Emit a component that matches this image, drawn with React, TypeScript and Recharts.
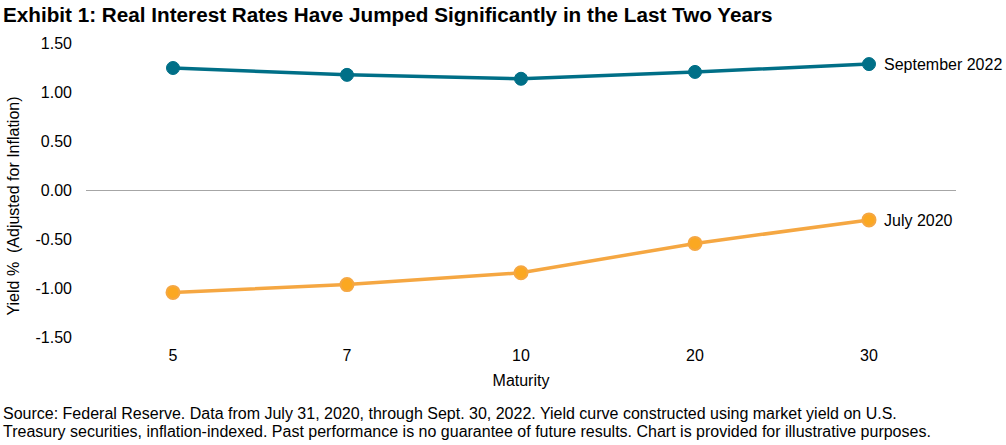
import React from 'react'
import { LineChart, Line, XAxis, YAxis, ReferenceLine, LabelList } from 'recharts'

const maturities = ['5', '7', '10', '20', '30']
const sep2022 = [1.25, 1.18, 1.14, 1.21, 1.29]
const jul2020 = [-1.04, -0.96, -0.84, -0.54, -0.3]
const yTicks = [-1.5, -1.0, -0.5, 0, 0.5, 1.0, 1.5]

const data = maturities.map((m, i) => ({ maturity: m, sep: sep2022[i], jul: jul2020[i] }))

const FONT = '"Liberation Sans", Arial, sans-serif'
const TEAL = '#006F87'
const ORANGE = '#F5A742'

const endLabel = (text: string) => (props: any) => {
  const { x, y, index } = props
  if (index !== maturities.length - 1) return null
  return (
    <text x={x + 15} y={y} dy="0.35em" fontSize={16} fill="#000" fontFamily={FONT}>
      {text}
    </text>
  )
}

export default function App() {
  return (
    <div style={{ position: 'absolute', left: 0, top: 0, width: 1006, height: 445, background: '#fff', fontFamily: FONT }}>
      <div style={{ position: 'absolute', left: 3, top: 3, fontSize: 20.7, fontWeight: 700, color: '#000', whiteSpace: 'nowrap' }}>
        Exhibit 1: Real Interest Rates Have Jumped Significantly in the Last Two Years
      </div>
      <LineChart width={1006} height={445} data={data} margin={{ top: 43.5, right: 50, left: 0, bottom: 77.5 }}>
        <XAxis
          dataKey="maturity"
          axisLine={false}
          tickLine={false}
          height={30}
          tickMargin={6}
          padding={{ left: 87, right: 87 }}
          tick={{ fontSize: 16, fill: '#000', fontFamily: FONT }}
        />
        <YAxis
          domain={[-1.5, 1.5]}
          ticks={yTicks}
          width={86}
          axisLine={false}
          tickLine={false}
          tickMargin={8}
          tickFormatter={(v: number) => v.toFixed(2)}
          tick={{ fontSize: 16, fill: '#000', fontFamily: FONT }}
        />
        <ReferenceLine y={0} stroke="#A6A6A6" strokeWidth={1} />
        <Line
          dataKey="sep"
          stroke={TEAL}
          strokeWidth={3.5}
          dot={{ r: 6.5, fill: TEAL, stroke: TEAL, strokeWidth: 1 }}
          isAnimationActive={false}
        >
          <LabelList dataKey="sep" content={endLabel('September 2022')} />
        </Line>
        <Line
          dataKey="jul"
          stroke={ORANGE}
          strokeWidth={3.5}
          dot={{ r: 6.5, fill: '#FBA821', stroke: ORANGE, strokeWidth: 2 }}
          isAnimationActive={false}
        >
          <LabelList dataKey="jul" content={endLabel('July 2020')} />
        </Line>
      </LineChart>
      <div style={{ position: 'absolute', left: 521, top: 381, fontSize: 16, color: '#000', transform: 'translate(-50%, -50%)' }}>
        Maturity
      </div>
      <div
        style={{
          position: 'absolute',
          left: 14,
          top: 206,
          fontSize: 16,
          color: '#000',
          whiteSpace: 'pre',
          transform: 'translate(-50%, -50%) rotate(-90deg)',
        }}
      >
        {'Yield %  (Adjusted for Inflation)'}
      </div>
      <div
        style={{
          position: 'absolute',
          left: 3,
          top: 405,
          fontSize: 16,
          lineHeight: '18px',
          color: '#000',
          whiteSpace: 'nowrap',
        }}
      >
        Source: Federal Reserve. Data from July 31, 2020, through Sept. 30, 2022. Yield curve constructed using market yield on U.S.
        <br />
        Treasury securities, inflation-indexed. Past performance is no guarantee of future results. Chart is provided for illustrative purposes.
      </div>
    </div>
  )
}
